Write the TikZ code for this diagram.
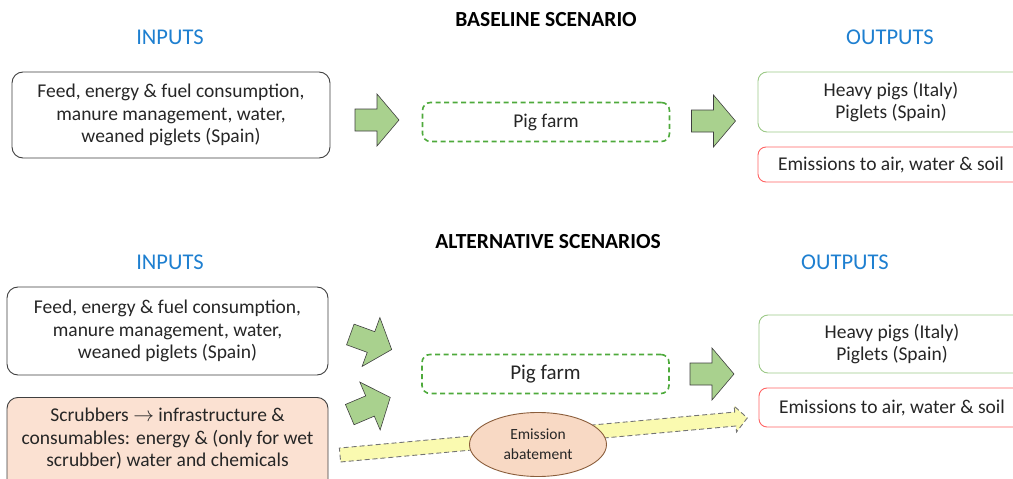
\documentclass[tikz,border=0pt]{standalone}
\usepackage{fontspec}
\setmainfont{Carlito}
\usetikzlibrary{shapes.geometric}
\definecolor{hdrblue}{HTML}{1E7FD0}
\definecolor{arrfill}{HTML}{A9D18E}
\definecolor{arrline}{HTML}{3F3F3F}
\definecolor{farmgreen}{HTML}{4EAA3C}
\definecolor{outgreen}{HTML}{9CC987}
\definecolor{outred}{HTML}{FF6464}
\definecolor{peach}{HTML}{FBE1D2}
\definecolor{ellfill}{HTML}{F8D9C4}
\definecolor{ellline}{HTML}{8B5E3C}
\definecolor{yelfill}{HTML}{FAFAB0}
\tikzset{
  txt/.style={font=\fontsize{19.5}{22.5}\selectfont, align=center, text=black!85},
  inbox/.style={txt, draw=arrline, line width=0.9pt, rounded corners=11pt, minimum width=318pt, minimum height=86pt, inner sep=0pt},
  farmbox/.style={txt, draw=farmgreen, line width=1.6pt, dash pattern=on 5pt off 3.5pt, rounded corners=8pt, minimum width=247pt, minimum height=39pt, inner sep=0pt},
  outbox/.style={txt, draw=outgreen, line width=0.9pt, rounded corners=9pt, minimum width=266pt, inner sep=0pt},
  emibox/.style={txt, draw=outred, line width=0.9pt, rounded corners=8pt, minimum width=266pt, inner sep=0pt},
  hdr/.style={font=\fontsize{22.5}{25}\selectfont, text=hdrblue},
  title/.style={font=\bfseries\fontsize{21.5}{24}\selectfont, text=black},
  barrow/.style={fill=arrfill, draw=arrline, line width=0.6pt, line join=miter},
  yarrow/.style={fill=yelfill, draw=black!55, line width=0.9pt, dash pattern=on 5pt off 3pt},
}
\newcommand{\blockarr}[3]{%
  \begin{scope}[shift={(#1,#2)},rotate=#3]
    \draw[barrow] (-22,-11) -- (0,-11) -- (0,-26) -- (22,0) -- (0,26) -- (0,11) -- (-22,11) -- cycle;
  \end{scope}}
\begin{document}
\begin{tikzpicture}[x=1pt,y=1pt]
\useasboundingbox (0,0) rectangle (1013,-479);
% ---------- baseline ----------
\node[title] (t1) at (546,-20) {BASELINE SCENARIO};
\node[hdr] (in1) at (170,-37) {INPUTS};
\node[hdr] (out1) at (890,-37) {OUTPUTS};
\node[inbox] (feed1) at (171,-115) {Feed, energy \& fuel consumption,\\manure management, water,\\weaned piglets (Spain)};
\node[farmbox] (farm1) at (546,-122) {Pig farm};
\node[outbox, minimum height=60pt] (pigs1) at (891,-102) {Heavy pigs (Italy)\\Piglets (Spain)};
\node[emibox, minimum height=35pt] (emi1) at (891,-164.5) {Emissions to air, water \& soil};
\blockarr{377}{-120}{0}
\blockarr{713.5}{-121}{0}
% ---------- alternative ----------
\node[title] (t2) at (548,-242) {ALTERNATIVE SCENARIOS};
\node[hdr] (in2) at (170,-262) {INPUTS};
\node[hdr] (out2) at (845,-262) {OUTPUTS};
\node[inbox, minimum width=321pt, minimum height=88pt] (feed2) at (167.5,-331) {Feed, energy \& fuel consumption,\\manure management, water,\\weaned piglets (Spain)};
\node[inbox, fill=peach, minimum width=321pt, minimum height=100pt, anchor=north] (scrub) at (167.5,-397) {};
\node[txt] (scrubtxt) at (167.5,-439) {Scrubbers $\rightarrow$ infrastructure \&\\consumables: energy \& (only for wet\\scrubber) water and chemicals};
\node[farmbox, font=\fontsize{21}{24}\selectfont] (farm2) at (545.5,-374) {Pig farm};
\node[outbox, minimum height=58pt] (pigs2) at (892,-344) {Heavy pigs (Italy)\\Piglets (Spain)};
\node[emibox, minimum height=39pt] (emi2) at (892,-407.5) {Emissions to air, water \& soil};
\blockarr{371}{-342}{-20}
\blockarr{370}{-406}{23}
\blockarr{712}{-374}{0}
% yellow dashed arrow
\begin{scope}[shift={(340,-455)},rotate=5.2]
  \draw[yarrow] (0,-7) -- (397,-7) -- (397,-13) -- (409,0) -- (397,13) -- (397,7) -- (0,7) -- cycle;
\end{scope}
\node[ellipse, draw=ellline, fill=ellfill, line width=0.9pt, minimum width=137pt, minimum height=64pt, inner sep=0pt, align=center, font=\fontsize{15.5}{20}\selectfont, text=black!85] (abate) at (538,-444.5) {Emission\\abatement};
\end{tikzpicture}
\end{document}
